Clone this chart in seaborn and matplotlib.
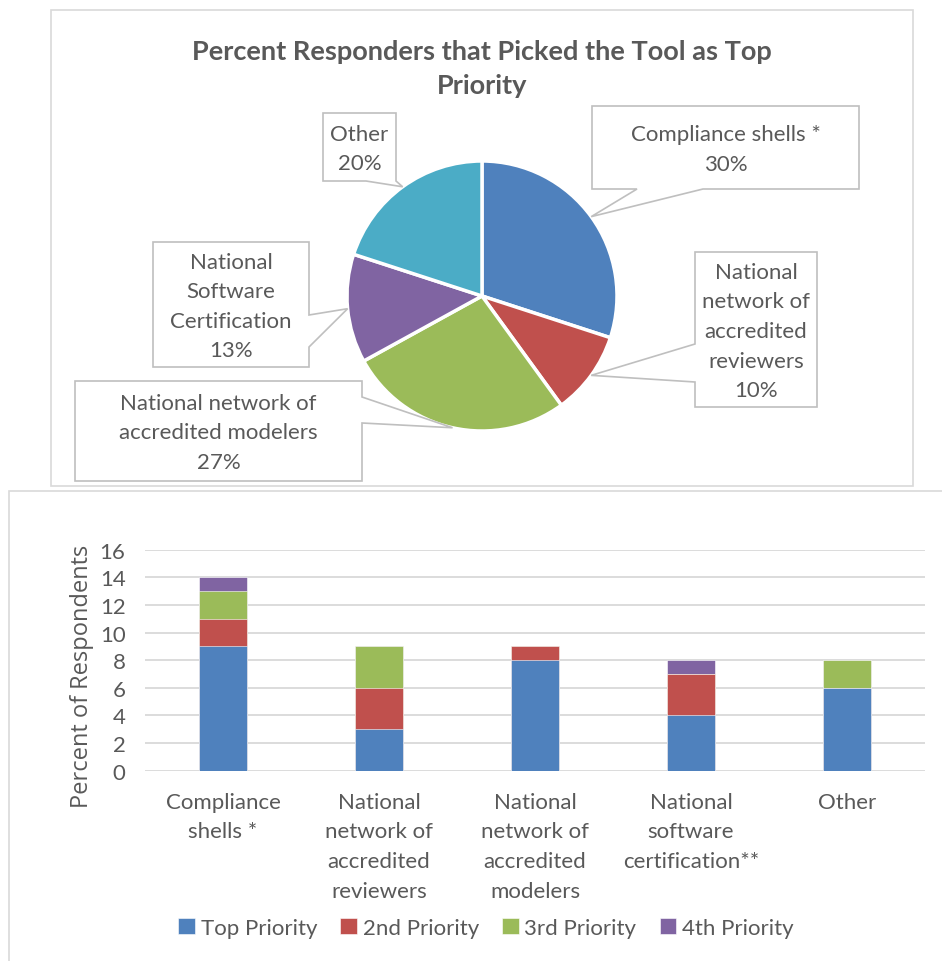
import numpy as np
import pandas as pd
import seaborn as sns
import matplotlib.pyplot as plt
from matplotlib.patches import Polygon, Rectangle


# Dados do gráfico de pizza
pie_labels = ['Compliance shells *',
              'National\nnetwork of\naccredited\nreviewers',
              'National network of\naccredited modelers',
              'National\nSoftware\nCertification',
              'Other']
pie_values = [30, 10, 27, 13, 20]
pie_colors = ['#4F81BD', '#C0504D', '#9BBB59', '#8064A2', '#4BACC6']

# Dados do gráfico de barras empilhadas
categories = ['Compliance\nshells *',
              'National\nnetwork of\naccredited\nreviewers',
              'National\nnetwork of\naccredited\nmodelers',
              'National\nsoftware\ncertification**',
              'Other']
top_priority = [9, 3, 8, 4, 6]
second_priority = [2, 3, 1, 3, 0]
third_priority = [2, 3, 0, 0, 2]
fourth_priority = [1, 0, 0, 1, 0]
series_names = ['Top Priority', '2nd Priority', '3rd Priority', '4th Priority']
bar_colors = ['#4F81BD', '#C0504D', '#9BBB59', '#8064A2']

TXT = '#595959'
W, H = 942, 962

sns.set_style('white')
plt.rcParams['font.family'] = ['Lato', 'DejaVu Sans']


def fx(x):
    return x / W


def fy(y):
    return 1 - y / H


fig = plt.figure(figsize=(W / 100, H / 100), dpi=100)

# Molduras dos dois painéis
fig.patches.append(Rectangle((fx(51), fy(487)), fx(913) - fx(51), fy(11) - fy(487),
                             transform=fig.transFigure, fill=False,
                             edgecolor='#D9D9D9', lw=1.2, zorder=0))
fig.patches.append(Rectangle((fx(9), fy(975)), fx(960) - fx(9), fy(492) - fy(975),
                             transform=fig.transFigure, fill=False,
                             edgecolor='#D9D9D9', lw=1.2, zorder=0))

# Pizza
cx, cy, r = 482, 297, 135
ax_pie = fig.add_axes([fx(cx - r), fy(cy + r), 2 * r / W, 2 * r / H])
ax_pie.pie(pie_values, colors=pie_colors, startangle=90, counterclock=False,
           wedgeprops=dict(edgecolor='white', linewidth=2.5))
ax_pie.set_xlim(-1, 1)
ax_pie.set_ylim(-1, 1)
ax_pie.set_aspect('auto')

fig.text(fx(482), fy(69), 'Percent Responders that Picked the Tool as Top\nPriority',
         ha='center', va='center', fontsize=19.5, fontweight='bold', color=TXT,
         linespacing=1.5)

# Callouts: caixa (x0, y0, x1, y1), lado e base da seta
callouts = [
    ((592, 107, 859, 190), 'bottom', (637, 703)),
    ((695, 253, 817, 408), 'left', (345, 383)),
    ((75, 382, 362, 482), 'right', (398, 424)),
    ((153, 243, 309, 368), 'right', (316, 348)),
    ((323, 114, 396, 182), 'bottom', (366, 396)),
]

total = sum(pie_values)
cum = np.cumsum([0] + pie_values)
for i, (box, side, base) in enumerate(callouts):
    mid = (cum[i] + cum[i + 1]) / 2 / total
    ang = np.deg2rad(90 - 360 * mid)
    tip = (cx + r * np.cos(ang), cy - r * np.sin(ang))
    x0, y0, x1, y1 = box
    if side == 'bottom':
        pts = [(x0, y0), (x1, y0), (x1, y1), (base[1], y1), tip, (base[0], y1), (x0, y1)]
    elif side == 'left':
        pts = [(x0, y0), (x1, y0), (x1, y1), (x0, y1), (x0, base[1]), tip, (x0, base[0])]
    else:
        pts = [(x0, y0), (x1, y0), (x1, base[0]), tip, (x1, base[1]), (x1, y1), (x0, y1)]
    fig.patches.append(Polygon([(fx(a), fy(b)) for a, b in pts], closed=True,
                               transform=fig.transFigure, facecolor='white',
                               edgecolor='#BFBFBF', lw=1.2, zorder=2))
    fig.text(fx((x0 + x1) / 2), fy((y0 + y1) / 2 + 1.5),
             f'{pie_labels[i]}\n{pie_values[i]}%', ha='center', va='center',
             fontsize=16, color=TXT, linespacing=1.6, zorder=3)

# Barras empilhadas (somas acumuladas, desenhadas da maior para a menor)
df = pd.DataFrame({
    'cat': categories,
    'Top Priority': top_priority,
    '2nd Priority': second_priority,
    '3rd Priority': third_priority,
    '4th Priority': fourth_priority,
})
stack = df[series_names].cumsum(axis=1)

ax = fig.add_axes([fx(145), fy(771.7), (925 - 145) / W, (771.7 - 550.7) / H])
for name, color in reversed(list(zip(series_names, bar_colors))):
    sns.barplot(x=df['cat'], y=stack[name], color=color, width=0.31,
                saturation=1, label=name, ax=ax, edgecolor='white', linewidth=0.4)

ax.set_ylim(0, 16)
ax.set_yticks(range(0, 17, 2))
ax.set_xlim(-0.5, 4.5)
ax.grid(axis='y', color='#D9D9D9', lw=1.3)
ax.set_axisbelow(True)
sns.despine(ax=ax, left=True, bottom=True)
ax.tick_params(axis='both', length=0, labelsize=16, labelcolor=TXT)
ax.tick_params(axis='y', pad=14)
ax.tick_params(axis='x', pad=15)
for t in ax.get_xticklabels():
    t.set_linespacing(1.62)
ax.set_xlabel('')
ax.set_ylabel('Percent of Respondents', fontsize=17, color=TXT,
              fontfamily='Open Sans')
ax.yaxis.set_label_coords(-0.066, 0.43)

handles, labels = ax.get_legend_handles_labels()
order = [labels.index(n) for n in series_names]
if ax.legend_ is not None:
    ax.legend_.remove()
fig.legend([handles[i] for i in order], series_names, loc='center',
           bbox_to_anchor=(fx(486), fy(929)), ncol=4, frameon=False,
           fontsize=16, labelcolor=TXT, handlelength=0.75, handleheight=0.75,
           handletextpad=0.25, columnspacing=1.05)

plt.savefig('out.png', dpi=100)
